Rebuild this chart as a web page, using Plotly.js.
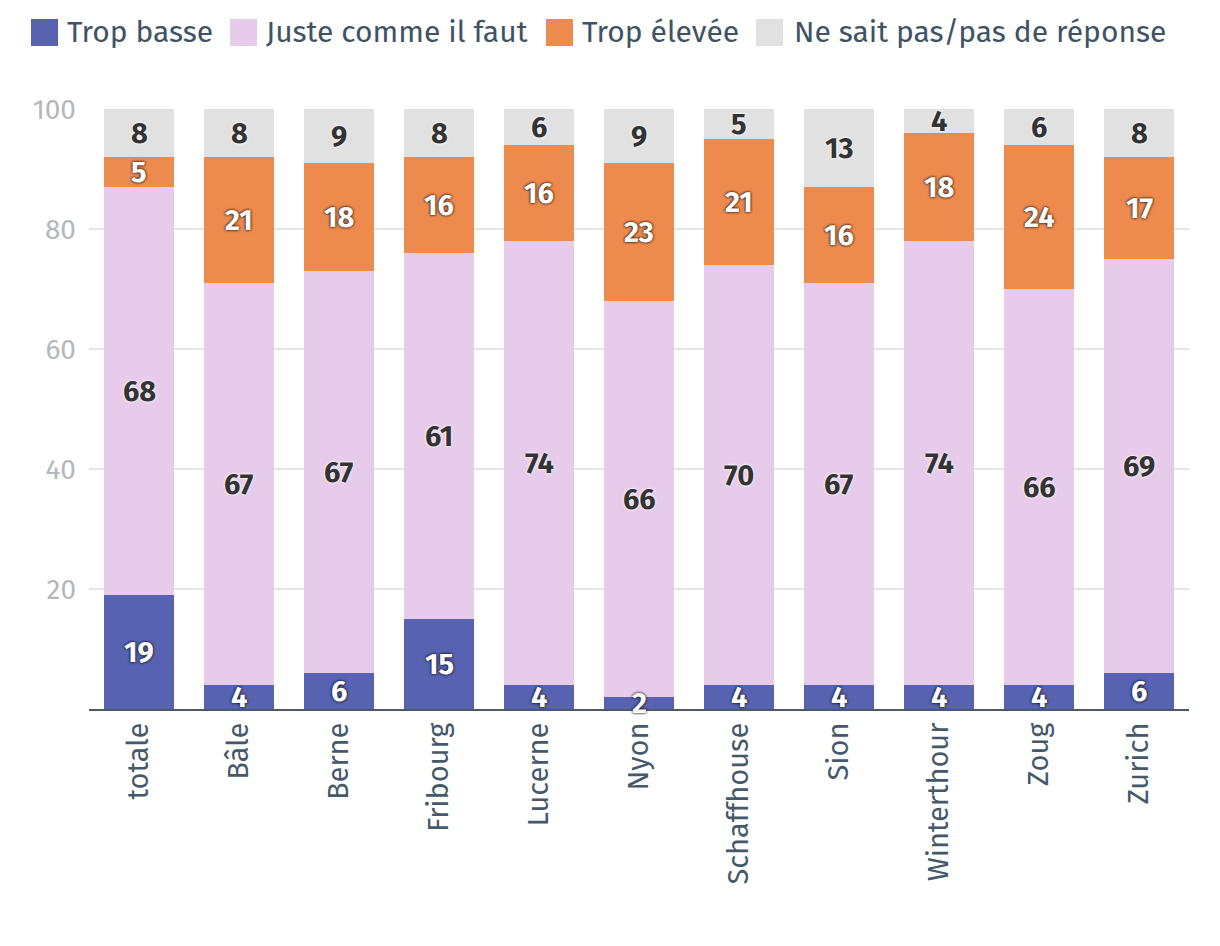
<!DOCTYPE html>
<html>
<head>
<meta charset="utf-8">
<script src="https://cdn.plot.ly/plotly-3.0.1.min.js"></script>
<style>
html,body{margin:0;padding:0;background:#fff;}
#chart{width:1220px;height:946px;}
</style>
</head>
<body>
<div id="chart"></div>
<script>
const categories = ["totale","Bâle","Berne","Fribourg","Lucerne","Nyon","Schaffhouse","Sion","Winterthour","Zoug","Zurich"];
const seriesNames = ["Trop basse","Juste comme il faut","Trop élevée","Ne sait pas/pas de réponse"];
const tropBasse  = [19, 4, 6, 15, 4, 2, 4, 4, 4, 4, 6];
const juste      = [68, 67, 67, 61, 74, 66, 70, 67, 74, 66, 69];
const tropElevee = [5, 21, 18, 16, 16, 23, 21, 16, 18, 24, 17];
const neSaitPas  = [8, 8, 9, 8, 6, 9, 5, 13, 4, 6, 8];
const yTicks = [20, 40, 60, 80, 100];

const colors = ["#5762b0", "#e7cbeb", "#ed8a4e", "#e1e1e1"];
const FONT = "'Fira Sans', 'Noto Sans', 'Open Sans', sans-serif";
const series = [tropBasse, juste, tropElevee, neSaitPas];
const lightText = [true, false, true, false];

const W = 1220, H = 946;
const M = {l: 89, r: 31, t: 109, b: 237};
const pw = W - M.l - M.r, ph = H - M.t - M.b;

const barTraces = series.map((vals, i) => ({
  type: 'bar',
  name: seriesNames[i],
  x: categories,
  y: vals,
  marker: {color: colors[i], line: {width: 0}},
  textposition: 'none',
  hoverinfo: 'x+y+name'
}));

const annotations = [];
// value labels, centred in each stacked segment
series.forEach((vals, i) => {
  vals.forEach((v, k) => {
    let base = 0;
    for (let j = 0; j < i; j++) base += series[j][k];
    annotations.push({
      xref: 'x', yref: 'y',
      x: categories[k], y: base + v / 2,
      text: String(v),
      showarrow: false,
      xanchor: 'center', yanchor: 'middle',
      yshift: 0,
      font: lightText[i]
        ? {family: FONT, size: 29, color: '#ffffff', weight: 700, shadow: '0px 0px 3px rgba(0,0,0,0.9), 0px 0px 2px rgba(0,0,0,0.6)'}
        : {family: FONT, size: 29, color: '#333333', weight: 700, shadow: '0px 0px 3px #ffffff, 0px 0px 2px #ffffff'}
    });
  });
});

// custom legend (larger swatches as in reference)
const legendItems = [
  {sx: 31, tx: 65},
  {sx: 230, tx: 264},
  {sx: 546, tx: 580},
  {sx: 756, tx: 792}
];
const shapes = [];
legendItems.forEach((it, i) => {
  shapes.push({
    type: 'rect', xref: 'paper', yref: 'paper', layer: 'above',
    x0: (it.sx - M.l) / pw, x1: (it.sx + 27 - M.l) / pw,
    y0: (H - M.b - 46) / ph, y1: (H - M.b - 19) / ph,
    fillcolor: colors[i], line: {width: 0}
  });
  annotations.push({
    xref: 'paper', yref: 'paper',
    x: (it.tx - M.l) / pw, y: (H - M.b - 32) / ph,
    xanchor: 'left', yanchor: 'middle', showarrow: false,
    text: seriesNames[i],
    font: {family: FONT, size: 30, color: '#3f5364'}
  });
});

const layout = {
  width: W, height: H,
  margin: M,
  paper_bgcolor: '#ffffff',
  plot_bgcolor: '#ffffff',
  barmode: 'stack',
  bargap: 0.3,
  showlegend: false,
  font: {family: FONT},
  xaxis: {
    type: 'category',
    range: [-0.5, categories.length - 0.5],
    tickangle: -90,
    tickfont: {family: FONT, size: 29, color: '#45596a'},
    showline: true, linecolor: '#4a5a66', linewidth: 2,
    ticks: '', showgrid: false, zeroline: false,
    layer: 'below traces',
    fixedrange: true
  },
  yaxis: {
    range: [0, 100],
    tickvals: yTicks,
    ticktext: yTicks.map(String),
    tickfont: {family: FONT, size: 28, color: '#b3b8bc'},
    showgrid: true, gridcolor: '#e6e6e6', gridwidth: 2,
    zeroline: false, showline: false, ticks: '',
    ticklabelstandoff: 12,
    fixedrange: true
  },
  shapes: shapes,
  annotations: annotations
};

Plotly.newPlot('chart', barTraces, layout, {displayModeBar: false, staticPlot: true});
</script>
</body>
</html>
